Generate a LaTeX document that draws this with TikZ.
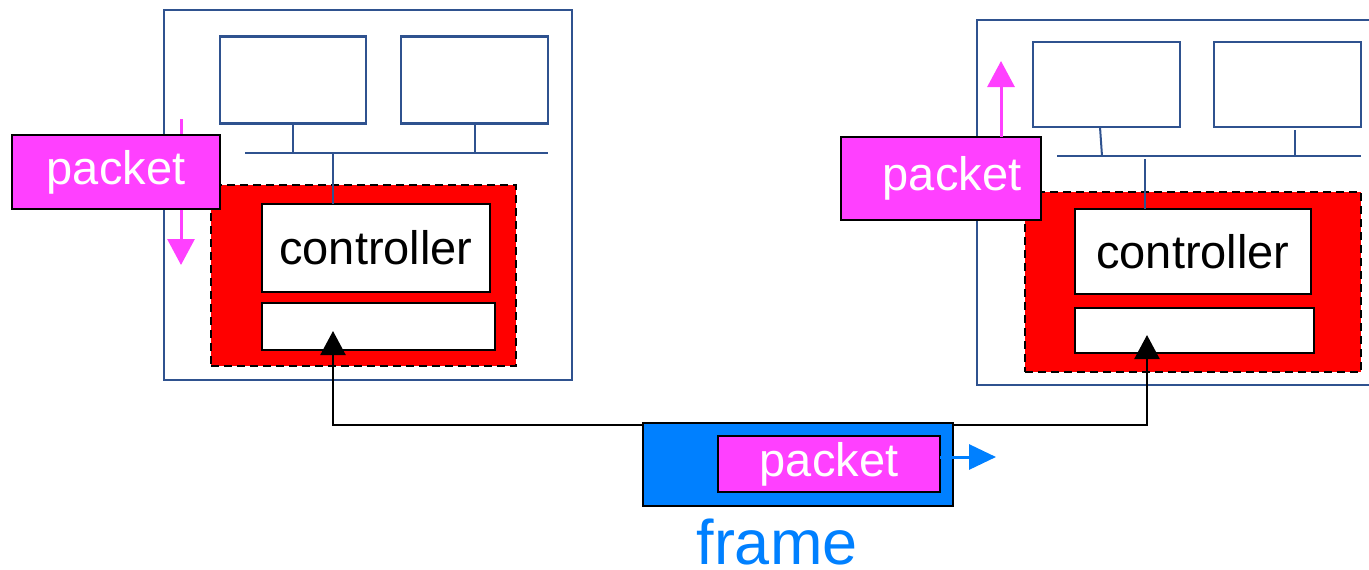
\documentclass[tikz,border=0pt]{standalone}
\usepackage{fontspec}
\setmainfont{Liberation Sans}
\usetikzlibrary{arrows.meta}

\definecolor{lanblue}{RGB}{47,82,143}
\definecolor{pktpink}{RGB}{255,64,255}
\definecolor{frmblue}{RGB}{0,128,255}

\begin{document}
\begin{tikzpicture}[x=1pt, y=-1pt,
  every node/.style={inner sep=0pt, outer sep=0pt},
  host/.style={draw=lanblue, line width=2pt},
  screen/.style={draw=lanblue, line width=2.4pt, fill=white},
  adapter/.style={draw=black, fill=red, line width=2pt, dash pattern=on 8pt off 5pt},
  card/.style={draw=black, fill=white, line width=2.6pt, font=\fontsize{47}{56}\selectfont},
  pkt/.style={draw=black, fill=pktpink, line width=2.8pt, text=white, font=\fontsize{47}{56}\selectfont}]
  \clip (0,0) rectangle (1369,570);
  \fill[white] (0,0) rectangle (1369,570);

  % left host
  \node (hostL) [host, minimum width=408pt, minimum height=370pt] at (368,195) {};
  \node (monL1) [screen, minimum width=146pt, minimum height=87pt] at (293,80) {};
  \node (monL2) [screen, minimum width=147pt, minimum height=87pt] at (474.5,80) {};
  \coordinate (busLa) at (245,153);
  \coordinate (busLb) at (548,153);
  \coordinate (busLc) at (333,153);
  \draw[lanblue, line width=2pt] (busLa) -- (busLb);
  \draw[lanblue, line width=2pt] (monL1.south) -- (monL1.south |- busLa);
  \draw[lanblue, line width=2pt] (monL2.south) -- (monL2.south |- busLa);
  \node (adapL) [adapter, minimum width=305pt, minimum height=181pt] at (363.5,275.5) {};
  \node (ctrlL) [card, minimum width=228pt, minimum height=88pt] at (376,248) {controller};
  \node (nicL) [card, minimum width=233pt, minimum height=47pt] at (378.5,326.5) {};
  \draw[lanblue, line width=2pt] (busLc) -- (busLc |- ctrlL.north);
  \coordinate (downL) at (181,119);
  \coordinate (downLtip) at (181,265);
  \draw[pktpink, line width=3pt, -{Triangle[length=26pt, width=27pt]}] (downL) -- (downLtip);
  \node (pktL) [pkt, minimum width=208pt, minimum height=74pt] at (116,172) {packet};

  % right host
  \node (hostR) [host, minimum width=420pt, minimum height=365pt] at (1187,202.5) {};
  \node (monR1) [screen, minimum width=147pt, minimum height=85pt] at (1106.5,84.5) {};
  \node (monR2) [screen, minimum width=147pt, minimum height=85pt] at (1287.5,84.5) {};
  \coordinate (busRa) at (1057,156);
  \coordinate (busRb) at (1361,156);
  \coordinate (busRc) at (1145,159);
  \draw[lanblue, line width=2pt] (busRa) -- (busRb);
  \draw[lanblue, line width=2pt] (1100,127) -- (1102,156);
  \draw[lanblue, line width=2pt] (1295,130) -- (1295,156);
  \node (adapR) [adapter, minimum width=336pt, minimum height=180pt] at (1193,282) {};
  \node (ctrlR) [card, minimum width=236pt, minimum height=85pt] at (1193,251.5) {controller};
  \node (nicR) [card, minimum width=239pt, minimum height=45pt] at (1194.5,330.5) {};
  \draw[lanblue, line width=2pt] (busRc) -- (busRc |- ctrlR.north);
  \node (pktR) [pkt, minimum width=200pt, minimum height=83pt] at (941,178.5) {\hspace*{22pt}packet};
  \coordinate (upRtip) at (1001,61);
  \draw[pktpink, line width=3pt, -{Triangle[length=26pt, width=27pt]}] (upRtip |- pktR.north) -- (upRtip);

  % link between the adapters
  \coordinate (tipL) at (333,331);
  \coordinate (tipR) at (1147,335);
  \coordinate (linkL) at (333,425);
  \coordinate (linkR) at (1147,425);
  \draw[line width=2.4pt, {Triangle[length=24pt, width=25pt]}-{Triangle[length=24pt, width=25pt]}]
    (tipL) -- (linkL) -- (linkR) -- (tipR);

  % frame
  \node (frm) [draw=black, fill=frmblue, line width=2.8pt, minimum width=310pt, minimum height=83pt] at (798,464.5) {};
  \node (pktF) [pkt, minimum width=222pt, minimum height=56pt] at (829,464) {packet};
  \coordinate (outF) at (996,457);
  \draw[frmblue, line width=3pt, -{Triangle[length=27pt, width=25pt]}] (pktF.east |- outF) -- (outF);
  \node (frmlabel) [anchor=base, text=frmblue, font=\fontsize{63}{72}\selectfont] at (777,564) {frame};
\end{tikzpicture}
\end{document}
